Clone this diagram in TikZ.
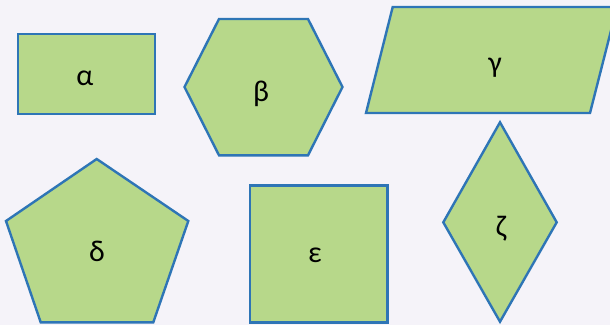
\documentclass[tikz,border=0pt]{standalone}
\usepackage{fontspec}
\setmainfont{Carlito}
\definecolor{bgc}{HTML}{F5F3F9}
\definecolor{fillc}{HTML}{B7D88A}
\definecolor{linec}{HTML}{2E75B6}
\begin{document}
\begin{tikzpicture}[x=1pt,y=-1pt,
  shp/.style={fill=fillc,draw=linec,line width=2.4pt,line join=miter},
  lbl/.style={font=\fontsize{30}{34}\selectfont,inner sep=0pt}]
\path[fill=bgc,use as bounding box] (0,0) rectangle (610,325);
\begin{scope}
\clip (0,0) rectangle (610,325);
% alpha rectangle
\draw[shp] (18,34) rectangle (155,114);
\node[lbl] (a) at (85,78.5) {α};
% beta hexagon
\draw[shp] (184.5,87) -- (219,19) -- (308,19) -- (342.5,87) -- (308,155.3) -- (219,155.3) -- cycle;
\node[lbl] (b) at (261,93.5) {β};
% gamma parallelogram
\draw[shp] (366,113) -- (392.7,7) -- (617,7) -- (590,113) -- cycle;
\node[lbl] (g) at (495,68) {γ};
% delta pentagon
\draw[shp] (96.7,159) -- (188.3,221) -- (153.3,322.3) -- (40.7,322.3) -- (6,221) -- cycle;
\node[lbl] (d) at (97,251) {δ};
% epsilon square
\draw[shp] (250,185.5) rectangle (387.3,322.5);
\node[lbl] (e) at (315,255.5) {ε};
% zeta diamond
\draw[shp] (500,122.3) -- (556.7,222.3) -- (500,321.7) -- (443.3,222.3) -- cycle;
\node[lbl] (z) at (501,228.5) {ζ};
\end{scope}
\end{tikzpicture}
\end{document}
